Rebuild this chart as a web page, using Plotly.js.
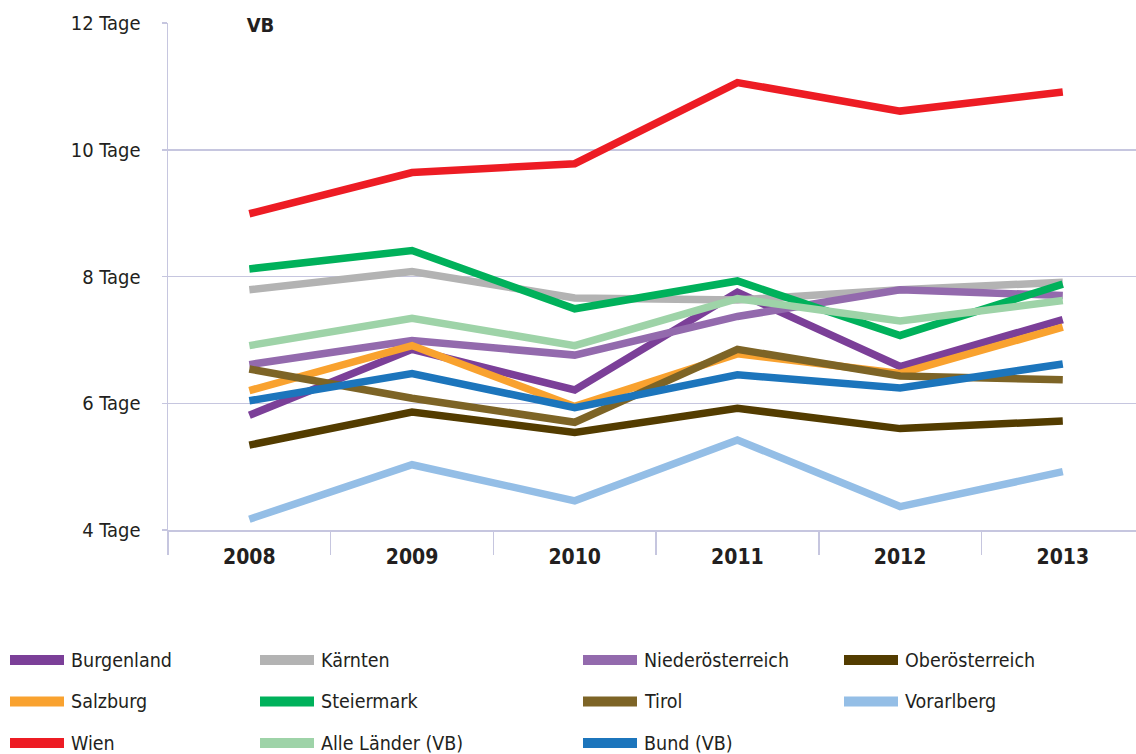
<!DOCTYPE html>
<html>
<head>
<meta charset="utf-8">
<script src="https://cdn.plot.ly/plotly-3.0.1.min.js"></script>
<style>
  html, body { margin: 0; padding: 0; background: #ffffff; }
  #chart { width: 1136px; height: 754px; }
</style>
</head>
<body>
<div id="chart"></div>
<script>
// ---- data ----
const years = ['2008', '2009', '2010', '2011', '2012', '2013'];
const yTickValues = [4, 6, 8, 10, 12];
const yTickLabels = ['4 Tage', '6 Tage', '8 Tage', '10 Tage', '12 Tage'];
const seriesNames = ['Burgenland', 'Kärnten', 'Niederösterreich', 'Oberösterreich',
                     'Salzburg', 'Steiermark', 'Tirol', 'Vorarlberg',
                     'Wien', 'Alle Länder (VB)', 'Bund (VB)'];
const burgenland   = [5.81, 6.85, 6.21, 7.75, 6.58, 7.32];
const kaernten     = [7.79, 8.08, 7.66, 7.63, 7.79, 7.91];
const niederoe     = [6.61, 6.99, 6.76, 7.37, 7.79, 7.70];
const oberoe       = [5.34, 5.86, 5.54, 5.92, 5.60, 5.72];
const salzburg     = [6.20, 6.91, 5.95, 6.78, 6.47, 7.20];
const steiermark   = [8.12, 8.41, 7.49, 7.93, 7.07, 7.88];
const tirol        = [6.54, 6.08, 5.70, 6.85, 6.43, 6.37];
const vorarlberg   = [4.17, 5.03, 4.46, 5.42, 4.37, 4.92];
const wien         = [8.99, 9.64, 9.78, 11.06, 10.61, 10.91];
const alleLaender  = [6.91, 7.34, 6.91, 7.65, 7.30, 7.62];
const bund         = [6.04, 6.47, 5.93, 6.45, 6.24, 6.62];
const seriesValues = [burgenland, kaernten, niederoe, oberoe, salzburg, steiermark,
                      tirol, vorarlberg, wien, alleLaender, bund];

// ---- styles ----
const colors = ['#7B3F98', '#B3B3B3', '#936AAD', '#533C00',
                '#F9A22F', '#00B15B', '#7D6426', '#94BEE6',
                '#ED1C24', '#9ED3A8', '#1C75BC'];
const FONT = '"DejaVu Sans Condensed", "DejaVu Sans", sans-serif';
const TEXT = '#231F20';
const GRID = '#C6C6DF';

const W = 1136, H = 754;
const M = { l: 168, r: 0, t: 23, b: 224 };
const plotW = W - M.l - M.r, plotH = H - M.t - M.b;
const px2x = px => (px - M.l) / plotW;
const py2y = py => (H - M.b - py) / plotH;

const traces = seriesNames.map((name, i) => ({
  type: 'scatter',
  mode: 'lines',
  name: name,
  x: years,
  y: seriesValues[i],
  line: { color: colors[i], width: 7.5 },
  showlegend: false,
  cliponaxis: false,
  hoverinfo: 'skip'
}));

// custom legend (4 columns, row-major)
const legCols = [10, 260, 583, 844];
const legRows = [660, 701.5, 743];
const swatchW = 54, swatchH = 10, textGap = 5;
const shapes = [];
const annotations = [];
seriesNames.forEach((name, i) => {
  const cx = legCols[i % 4], cy = legRows[Math.floor(i / 4)];
  shapes.push({
    type: 'rect', xref: 'paper', yref: 'paper',
    x0: px2x(cx), x1: px2x(cx + swatchW),
    y0: py2y(cy - swatchH / 2), y1: py2y(cy + swatchH / 2),
    fillcolor: colors[i], line: { width: 0 }
  });
  annotations.push({
    xref: 'paper', yref: 'paper',
    x: px2x(cx + swatchW + textGap), y: py2y(cy),
    xanchor: 'left', yanchor: 'middle',
    text: name, showarrow: false,
    font: { family: FONT, size: 19.5, color: TEXT }
  });
});

// "VB" panel title sitting on top gridline
annotations.push({
  xref: 'paper', yref: 'y',
  x: px2x(260), y: 12, yshift: -1.5,
  xanchor: 'center', yanchor: 'middle',
  text: '<b>VB</b>', showarrow: false,
  bgcolor: '#ffffff', width: 125,
  font: { family: FONT, size: 20, color: TEXT }
});

const layout = {
  width: W, height: H,
  margin: M,
  paper_bgcolor: '#ffffff',
  plot_bgcolor: '#ffffff',
  font: { family: FONT, color: TEXT },
  showlegend: false,
  xaxis: {
    type: 'category',
    range: [-0.5, 5.45],
    showgrid: false,
    zeroline: false,
    showline: true, linecolor: GRID, linewidth: 1.5,
    ticks: 'outside', tickson: 'boundaries',
    ticklen: 23, tickwidth: 1.5, tickcolor: GRID,
    ticklabelstandoff: 7,
    tickfont: { family: FONT, size: 21, color: TEXT, weight: 'bold' },
    fixedrange: true
  },
  yaxis: {
    range: [4, 12],
    tickvals: yTickValues,
    ticktext: yTickLabels,
    showgrid: true, gridcolor: GRID, gridwidth: 1.5,
    zeroline: false,
    showline: true, linecolor: GRID, linewidth: 1.5,
    ticks: 'outside', ticklen: 5, tickwidth: 1.5, tickcolor: GRID,
    ticklabelstandoff: 17,
    tickfont: { family: FONT, size: 20, color: TEXT },
    fixedrange: true
  },
  shapes: shapes,
  annotations: annotations
};

Plotly.newPlot('chart', traces, layout, { displayModeBar: false, staticPlot: true });
</script>
</body>
</html>
